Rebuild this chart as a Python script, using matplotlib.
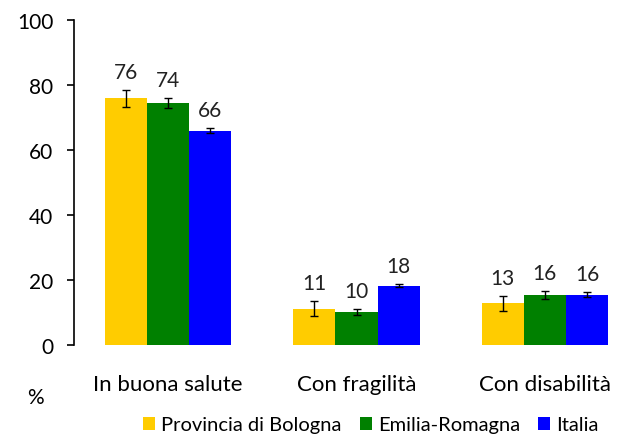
import numpy as np
import matplotlib.pyplot as plt

# dati
categorie = ["In buona salute", "Con fragilità", "Con disabilità"]
serie = ["Provincia di Bologna", "Emilia-Romagna", "Italia"]
bologna = [76, 11, 13]
emilia = [74, 10, 16]
italia = [66, 18, 16]
# valori esatti delle barre (per l'altezza) e semi-ampiezza degli intervalli
bologna_val = [75.9, 11.1, 12.9]
emilia_val = [74.4, 10.2, 15.4]
italia_val = [65.9, 18.3, 15.5]
bologna_err = [2.6, 2.3, 2.3]
emilia_err = [1.5, 1.0, 1.2]
italia_err = [0.8, 0.6, 0.7]

colori = ["#FFCC00", "#008000", "#0000FF"]

plt.rcParams['font.family'] = ['Lato', 'DejaVu Sans']

fig = plt.figure(figsize=(6.23, 4.35), dpi=100)
ax = fig.add_axes([74/623, 89/435, 549/623, 325/435])

x = np.arange(len(categorie))
w = 0.2234

valori = [bologna_val, emilia_val, italia_val]
errori = [bologna_err, emilia_err, italia_err]
etichette = [bologna, emilia, italia]

for i in range(3):
    pos = x + (i - 1) * w
    ax.bar(pos, valori[i], width=w, color=colori[i], label=serie[i])
    ax.errorbar(pos, valori[i], yerr=errori[i], fmt='none', ecolor='black',
                elinewidth=1, capsize=3, capthick=1)
    for p, v, e, lab in zip(pos, valori[i], errori[i], etichette[i]):
        ax.annotate(str(lab), (p, v + e), xytext=(0, 13), textcoords='offset points',
                    ha='center', va='center', fontsize=15, color='#222222')

ax.set_xlim(-0.5, 2.415)
ax.set_ylim(0, 100)
ax.set_yticks([0, 20, 40, 60, 80, 100])
ax.tick_params(axis='y', labelsize=15, length=5, width=1.2, pad=10, direction='out')
ax.set_xticks(x)
ax.set_xticklabels(categorie, fontsize=16)
ax.tick_params(axis='x', length=0, pad=21)

for s in ['top', 'right', 'bottom']:
    ax.spines[s].set_visible(False)
ax.spines['left'].set_linewidth(1.2)

fig.text(35/623, 1 - 398/435, "%", fontsize=15, ha='center', va='center')

fig.legend(loc='center', bbox_to_anchor=(371/623, 1 - 426/435), ncol=3, frameon=False,
           fontsize=14.5, handlelength=0.6, handleheight=0.6, handletextpad=0.3,
           columnspacing=0.9, borderpad=0, borderaxespad=0)

fig.savefig("out.png", dpi=100)
